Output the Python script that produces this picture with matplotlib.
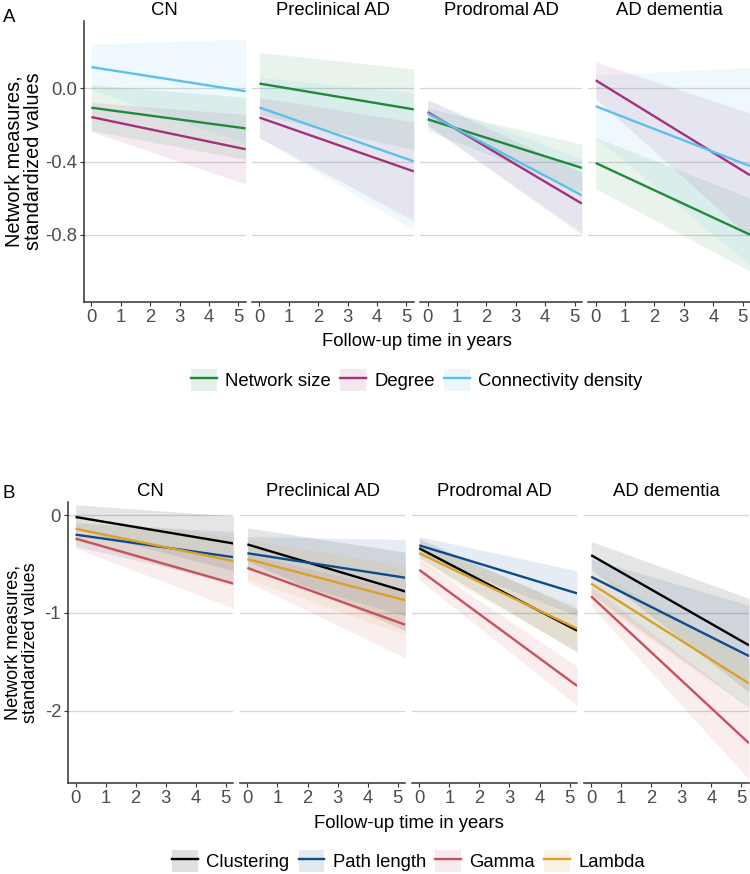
import matplotlib
matplotlib.use("Agg")
import matplotlib.pyplot as plt
from matplotlib.patches import Patch
from matplotlib.lines import Line2D
from matplotlib.legend_handler import HandlerTuple

plt.rcParams["font.family"] = ["Liberation Sans", "DejaVu Sans"]
plt.rcParams["axes.unicode_minus"] = False

groups = ["CN", "Preclinical AD", "Prodromal AD", "AD dementia"]
follow_up = [0.0, 5.25]

# Panel A: fitted value at start / end and half-width of the ribbon
size_start = [-0.106, 0.026, -0.169, -0.408]
size_end = [-0.219, -0.115, -0.435, -0.80]
size_se_start = [0.125, 0.17, 0.06, 0.14]
size_se_end = [0.17, 0.22, 0.13, 0.20]
degree_start = [-0.157, -0.16, -0.13, 0.044]
degree_end = [-0.333, -0.454, -0.63, -0.475]
degree_se_start = [0.08, 0.11, 0.07, 0.10]
degree_se_end = [0.19, 0.27, 0.17, 0.34]
density_start = [0.116, -0.105, -0.137, -0.098]
density_end = [-0.016, -0.399, -0.585, -0.425]
density_se_start = [0.125, 0.165, 0.07, 0.17]
density_se_end = [0.285, 0.375, 0.20, 0.54]

# Panel B
clust_start = [-0.02, -0.30, -0.34, -0.41]
clust_end = [-0.29, -0.78, -1.18, -1.33]
clust_se_start = [0.125, 0.17, 0.10, 0.14]
clust_se_end = [0.28, 0.40, 0.22, 0.48]
path_start = [-0.20, -0.39, -0.31, -0.63]
path_end = [-0.43, -0.64, -0.80, -1.44]
path_se_start = [0.12, 0.17, 0.09, 0.18]
path_se_end = [0.26, 0.39, 0.23, 0.52]
gamma_start = [-0.24, -0.54, -0.56, -0.83]
gamma_end = [-0.70, -1.12, -1.745, -2.33]
gamma_se_start = [0.10, 0.14, 0.10, 0.10]
gamma_se_end = [0.25, 0.34, 0.20, 0.37]
lambda_start = [-0.14, -0.45, -0.39, -0.70]
lambda_end = [-0.47, -0.87, -1.16, -1.72]
lambda_se_start = [0.12, 0.20, 0.10, 0.15]
lambda_se_end = [0.25, 0.35, 0.23, 0.25]

series_a = [
    ("Network size", "#1f8a3b", size_start, size_end, size_se_start, size_se_end),
    ("Degree", "#a3327c", degree_start, degree_end, degree_se_start, degree_se_end),
    ("Connectivity density", "#5bc1ec", density_start, density_end, density_se_start, density_se_end),
]
series_b = [
    ("Clustering", "#000000", clust_start, clust_end, clust_se_start, clust_se_end),
    ("Path length", "#0e4b8c", path_start, path_end, path_se_start, path_se_end),
    ("Gamma", "#c8505f", gamma_start, gamma_end, gamma_se_start, gamma_se_end),
    ("Lambda", "#d9a12a", lambda_start, lambda_end, lambda_se_start, lambda_se_end),
]

W, H = 750, 874
fig = plt.figure(figsize=(W / 100, H / 100), dpi=100)


def px_axes(x0, y0, x1, y1):
    return fig.add_axes([x0 / W, 1 - y1 / H, (x1 - x0) / W, (y1 - y0) / H])


def draw_block(left, right, top, bottom, series, ylim, yticks, ylabels,
               ytitle_x, ytitle_size, xlabel_y, legend_y, letter_y):
    gap = 6.5
    width = (right - left - 3 * gap) / 4
    for i, g in enumerate(groups):
        x0 = left + i * (width + gap)
        ax = px_axes(x0, top, x0 + width, bottom)
        for name, col, s, e, s0, s1 in series:
            lo = [s[i] - s0[i], e[i] - s1[i]]
            hi = [s[i] + s0[i], e[i] + s1[i]]
            ax.fill_between(follow_up, lo, hi, color=col, alpha=0.1, lw=0)
        for name, col, s, e, s0, s1 in series:
            ax.plot(follow_up, [s[i], e[i]], color=col, lw=1.7, solid_capstyle="butt")
        ax.set_xlim(-0.25, 5.25)
        ax.set_ylim(*ylim)
        ax.set_xticks(range(6))
        ax.set_yticks(yticks)
        ax.grid(axis="y", color="#d6d6d6", lw=0.9)
        ax.set_axisbelow(True)
        for sp in ["top", "right"]:
            ax.spines[sp].set_visible(False)
        ax.spines["bottom"].set_color("#333333")
        ax.spines["bottom"].set_linewidth(1.1)
        ax.tick_params(axis="x", colors="#333333", length=3, width=0.8,
                       labelsize=13.3, labelcolor="#4d4d4d", pad=2)
        if i == 0:
            ax.spines["left"].set_color("#333333")
            ax.spines["left"].set_linewidth(1.1)
            ax.set_yticklabels(ylabels)
            ax.tick_params(axis="y", colors="#333333", length=3, width=0.8,
                           labelsize=13.3, labelcolor="#4d4d4d", pad=2)
        else:
            ax.spines["left"].set_visible(False)
            ax.tick_params(axis="y", length=0, labelleft=False)
        ax.set_title(g, fontsize=13.3, pad=4, color="black")

    fig.text(ytitle_x / W, 1 - (top + bottom) / 2 / H,
             "Network measures,\nstandardized values", rotation=90,
             ha="center", va="center", fontsize=ytitle_size, linespacing=1.0)
    fig.text((left + right) / 2 / W, 1 - xlabel_y / H, "Follow-up time in years",
             ha="center", va="center", fontsize=13.3)
    fig.text(9 / W, 1 - letter_y / H, "A" if len(series) == 3 else "B",
             ha="center", va="center", fontsize=13.5)

    handles = [(Patch(facecolor=col, alpha=0.12, edgecolor="none"),
                Line2D([], [], color=col, lw=1.7)) for _, col, *_ in series]
    labels = [name for name, *_ in series]
    fig.legend(handles, labels, loc="center", ncol=len(series),
               bbox_to_anchor=((left + right) / 2 / W, 1 - legend_y / H),
               frameon=False, fontsize=13.3, handlelength=1.4, handleheight=1.4,
               handletextpad=0.45, columnspacing=0.5,
               handler_map={tuple: HandlerTuple(ndivide=1)})


draw_block(84, 750, 21, 302, series_a, (-1.168, 0.368), [0, -0.4, -0.8],
           ["0.0", "-0.4", "-0.8"], 24, 14.3, 341, 380, 17)
draw_block(68, 749, 502, 783, series_b, (-2.736, 0.133), [0, -1, -2],
           ["0", "-1", "-2"], 22, 13, 823, 861, 493)

fig.savefig("out.png", dpi=100)
